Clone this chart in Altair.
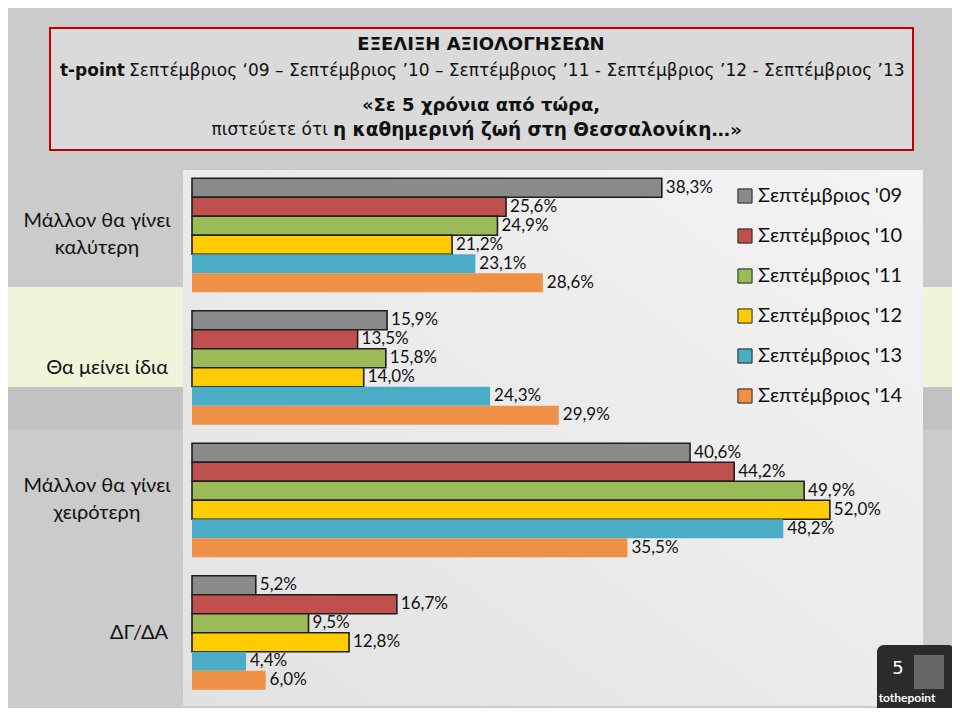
import altair as alt
import pandas as pd

categories = ["Μάλλον θα γίνει\nκαλύτερη", "Θα μείνει ίδια", "Μάλλον θα γίνει\nχειρότερη", "ΔΓ/ΔΑ"]
series = ["Σεπτέμβριος '09", "Σεπτέμβριος '10", "Σεπτέμβριος '11",
          "Σεπτέμβριος '12", "Σεπτέμβριος '13", "Σεπτέμβριος '14"]
colors = ["#8a8a8a", "#c0504d", "#9bbb59", "#ffcc00", "#4bacc6", "#ef9047"]

v09 = [38.3, 15.9, 40.6, 5.2]
v10 = [25.6, 13.5, 44.2, 16.7]
v11 = [24.9, 15.8, 49.9, 9.5]
v12 = [21.2, 14.0, 52.0, 12.8]
v13 = [23.1, 24.3, 48.2, 4.4]
v14 = [28.6, 29.9, 35.5, 6.0]
values = [v09, v10, v11, v12, v13, v14]

rows = []
for si, (s, vals) in enumerate(zip(series, values)):
    for c, v in zip(categories, vals):
        rows.append({"category": c, "series": s, "idx": si, "value": v,
                     "label": f"{v:.1f}".replace(".", ",") + "%"})
df = pd.DataFrame(rows)
cat_df = pd.DataFrame({"category": categories})

FONT = "Lato"
TFONT = "DejaVu Sans"

yscale = alt.Scale(domain=categories, paddingInner=0.14, paddingOuter=0.07)
xscale = alt.Scale(domain=[0, 60], nice=False)
yoff = alt.YOffset("series:N", sort=series,
                   scale=alt.Scale(domain=series, paddingInner=0, paddingOuter=0))

one = alt.Data(values=[{}])


def box(x, x2, y, y2, color, **kw):
    return alt.Chart(one).mark_rect(color=color, **kw).encode(
        x=alt.value(x), x2=alt.value(x2), y=alt.value(y), y2=alt.value(y2))


def txt(x, y, s, size, weight="normal", align="center", font=TFONT, color="#111"):
    return alt.Chart(one).mark_text(font=font, fontSize=size, fontWeight=weight,
                                    align=align, baseline="middle", color=color).encode(
        x=alt.value(x), y=alt.value(y), text=alt.value(s))


panel_grad = alt.Gradient(
    gradient="linear",
    stops=[alt.GradientStop(color="#e2e2e2", offset=0),
           alt.GradientStop(color="#f4f4f4", offset=1)],
    x1=0, x2=1, y1=1, y2=0)

decor = [
    box(-187, -7, 118, 218, "#eef5d8"),
    box(-187, -7, 218, 261, "#c2c2c2"),
    box(731, 763, 118, 218, "#eef5d8"),
    box(731, 763, 218, 261, "#c2c2c2"),
    alt.Chart(one).mark_rect(color=panel_grad).encode(
        x=alt.value(-9), x2=alt.value(731), y=alt.value(1), y2=alt.value(537)),
    box(-142, 721, -141, -19, "#dadada", stroke="#c00000", strokeWidth=2),
    txt(289, -124, "ΕΞΕΛΙΞΗ ΑΞΙΟΛΟΓΗΣΕΩΝ", 18, "bold"),
    txt(-67, -98, "t-point", 17, "bold", align="right"),
    txt(-63, -98, "Σεπτέμβριος ‘09 – Σεπτέμβριος ’10 – Σεπτέμβριος ’11 - Σεπτέμβριος ’12 - Σεπτέμβριος ’13",
        17, align="left"),
    txt(289, -63, "«Σε 5 χρόνια από τώρα,", 18, "bold"),
    txt(136, -39, "πιστεύετε ότι", 17, align="right"),
    txt(141, -39, "η καθημερινή ζωή στη Θεσσαλονίκη…»", 18.5, "bold", align="left"),
    box(685, 763, 476, 549, "#2b2b2b", cornerRadius=7),
    txt(706, 500, "5", 18, color="#ffffff", font="DejaVu Sans"),
    txt(715, 529, "tothepoint", 12, "bold", color="#ffffff", font=FONT),
    box(722, 752, 486, 520, "#777777", opacity=0.8),
]

bars = alt.Chart(df).mark_bar(stroke="#1e1e1e").encode(
    x=alt.X("value:Q", scale=xscale, axis=None),
    y=alt.Y("category:N", sort=categories, scale=yscale,
            axis=alt.Axis(labels=False, title=None, tickBand="extent", tickSize=6,
                          domainColor="#a0a0a0", tickColor="#a0a0a0", domainWidth=1.5,
                          offset=4)),
    yOffset=yoff,
    color=alt.Color("series:N", sort=series,
                    scale=alt.Scale(domain=series, range=colors),
                    legend=alt.Legend(orient="none", legendX=543, legendY=17, title=None,
                                      symbolType="square", symbolSize=200,
                                      symbolStrokeColor="#222", symbolStrokeWidth=1,
                                      labelFont=FONT, labelFontSize=20, labelColor="#111",
                                      rowPadding=20, labelOffset=3, labelLimit=300)),
    strokeWidth=alt.condition("datum.idx < 4", alt.value(1.6), alt.value(0)),
)

labels = alt.Chart(df).mark_text(font=FONT, fontSize=17, align="left", baseline="middle",
                                 dx=4, color="#111").encode(
    x=alt.X("value:Q", scale=xscale),
    y=alt.Y("category:N", sort=categories, scale=yscale),
    yOffset=yoff,
    text="label:N",
)

cat_multi = alt.Chart(cat_df).transform_filter(
    "indexof(datum.category, '\\n') >= 0").mark_text(
    font=FONT, fontSize=20, align="center", baseline="middle", lineBreak="\n",
    lineHeight=27, dy=-14, color="#111").encode(
    x=alt.value(-95),
    y=alt.Y("category:N", sort=categories, scale=yscale),
    text="category:N",
)
cat_single = alt.Chart(cat_df).transform_filter(
    "indexof(datum.category, '\\n') < 0").mark_text(
    font=FONT, fontSize=20, align="right", baseline="middle", color="#111").encode(
    x=alt.value(-24),
    y=alt.Y("category:N", sort=categories, scale=yscale),
    text="category:N",
)

chart = alt.layer(*decor, bars, labels, cat_multi, cat_single).properties(
    width=736, height=530,
    autosize=alt.AutoSizeParams(type="none"),
    padding={"left": 184, "top": 161, "right": 24, "bottom": 9},
    background="#cbcbcb",
).configure_view(strokeWidth=0)

chart.save("out.html", embed_options={"renderer": "svg", "actions": False})
